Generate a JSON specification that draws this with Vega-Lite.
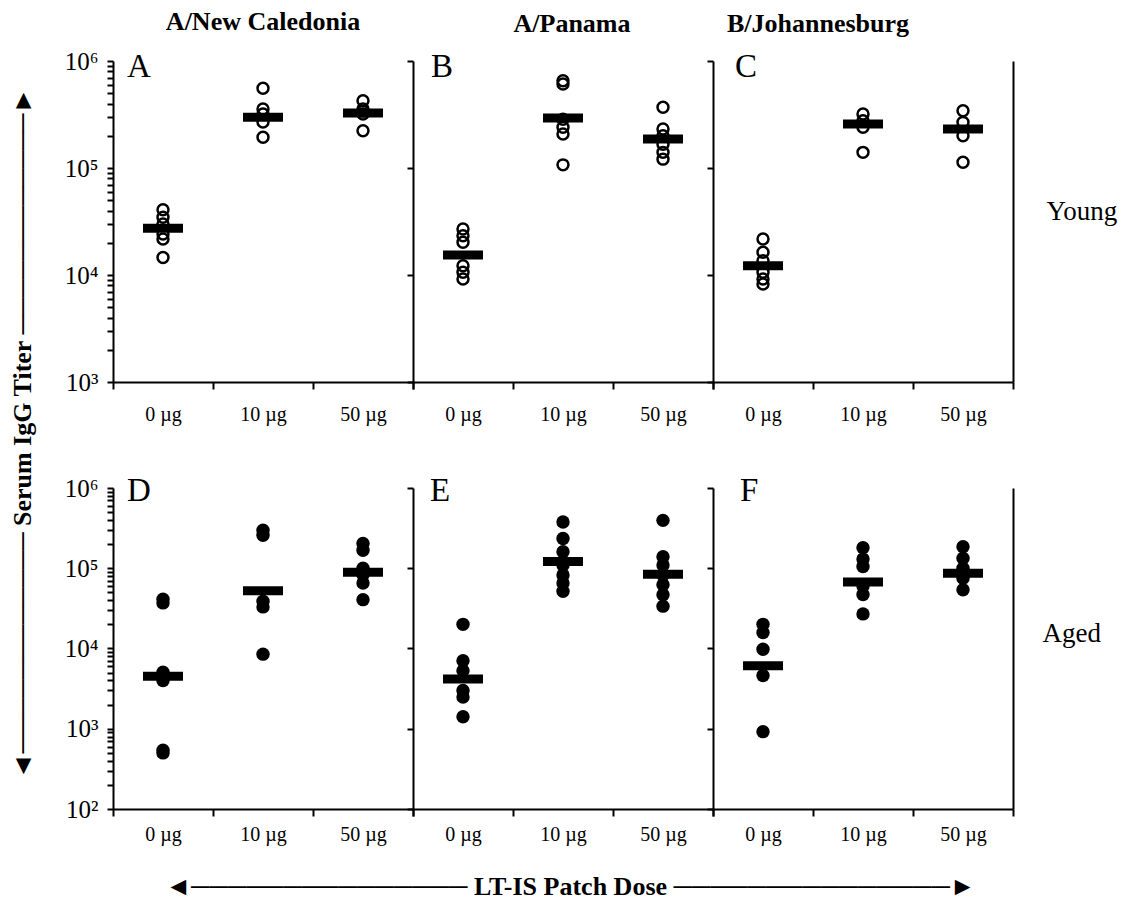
{
  "$schema": "https://vega.github.io/schema/vega-lite/v6.json",
  "background": "white",
  "padding": {"left": 9, "top": 9, "right": 5, "bottom": 5},
  "config": {
    "view": {"stroke": null},
    "font": "Liberation Serif",
    "axis": {"domainColor": "black", "domainWidth": 2, "tickColor": "black", "tickWidth": 2, "labelColor": "black", "titleColor": "black", "grid": false, "labelFont": "Liberation Serif", "titleFont": "Liberation Serif"},
    "title": {"font": "Liberation Serif", "fontSize": 26, "fontWeight": "bold", "color": "black", "frame": "group", "offset": 14}
  },
  "datasets": {
    "young": [
      {"panel": "A", "dose": "0 µg", "titer": 40700}, {"panel": "A", "dose": "0 µg", "titer": 34600}, {"panel": "A", "dose": "0 µg", "titer": 30000}, {"panel": "A", "dose": "0 µg", "titer": 24200}, {"panel": "A", "dose": "0 µg", "titer": 21700}, {"panel": "A", "dose": "0 µg", "titer": 14600},
      {"panel": "A", "dose": "10 µg", "titer": 556000}, {"panel": "A", "dose": "10 µg", "titer": 356000}, {"panel": "A", "dose": "10 µg", "titer": 320000}, {"panel": "A", "dose": "10 µg", "titer": 269000}, {"panel": "A", "dose": "10 µg", "titer": 194000},
      {"panel": "A", "dose": "50 µg", "titer": 425000}, {"panel": "A", "dose": "50 µg", "titer": 356000}, {"panel": "A", "dose": "50 µg", "titer": 340000}, {"panel": "A", "dose": "50 µg", "titer": 320000}, {"panel": "A", "dose": "50 µg", "titer": 223000},
      {"panel": "B", "dose": "0 µg", "titer": 26900}, {"panel": "B", "dose": "0 µg", "titer": 23300}, {"panel": "B", "dose": "0 µg", "titer": 20200}, {"panel": "B", "dose": "0 µg", "titer": 12200}, {"panel": "B", "dose": "0 µg", "titer": 10600}, {"panel": "B", "dose": "0 µg", "titer": 9180},
      {"panel": "B", "dose": "10 µg", "titer": 655000}, {"panel": "B", "dose": "10 µg", "titer": 610000}, {"panel": "B", "dose": "10 µg", "titer": 285000}, {"panel": "B", "dose": "10 µg", "titer": 240000}, {"panel": "B", "dose": "10 µg", "titer": 208000}, {"panel": "B", "dose": "10 µg", "titer": 107000},
      {"panel": "B", "dose": "50 µg", "titer": 369000}, {"panel": "B", "dose": "50 µg", "titer": 231000}, {"panel": "B", "dose": "50 µg", "titer": 200000}, {"panel": "B", "dose": "50 µg", "titer": 167000}, {"panel": "B", "dose": "50 µg", "titer": 140000}, {"panel": "B", "dose": "50 µg", "titer": 121000},
      {"panel": "C", "dose": "0 µg", "titer": 21700}, {"panel": "C", "dose": "0 µg", "titer": 16300}, {"panel": "C", "dose": "0 µg", "titer": 13600}, {"panel": "C", "dose": "0 µg", "titer": 10600}, {"panel": "C", "dose": "0 µg", "titer": 9180}, {"panel": "C", "dose": "0 µg", "titer": 8240},
      {"panel": "C", "dose": "10 µg", "titer": 320000}, {"panel": "C", "dose": "10 µg", "titer": 277000}, {"panel": "C", "dose": "10 µg", "titer": 240000}, {"panel": "C", "dose": "10 µg", "titer": 140000},
      {"panel": "C", "dose": "50 µg", "titer": 343000}, {"panel": "C", "dose": "50 µg", "titer": 267000}, {"panel": "C", "dose": "50 µg", "titer": 200000}, {"panel": "C", "dose": "50 µg", "titer": 113000}
    ],
    "aged": [
      {"panel": "D", "dose": "0 µg", "titer": 41000}, {"panel": "D", "dose": "0 µg", "titer": 37000}, {"panel": "D", "dose": "0 µg", "titer": 5060}, {"panel": "D", "dose": "0 µg", "titer": 3990}, {"panel": "D", "dose": "0 µg", "titer": 540}, {"panel": "D", "dose": "0 µg", "titer": 500},
      {"panel": "D", "dose": "10 µg", "titer": 297000}, {"panel": "D", "dose": "10 µg", "titer": 258000}, {"panel": "D", "dose": "10 µg", "titer": 38800}, {"panel": "D", "dose": "10 µg", "titer": 33000}, {"panel": "D", "dose": "10 µg", "titer": 8500},
      {"panel": "D", "dose": "50 µg", "titer": 204000}, {"panel": "D", "dose": "50 µg", "titer": 168000}, {"panel": "D", "dose": "50 µg", "titer": 100000}, {"panel": "D", "dose": "50 µg", "titer": 82700}, {"panel": "D", "dose": "50 µg", "titer": 65300}, {"panel": "D", "dose": "50 µg", "titer": 40600},
      {"panel": "E", "dose": "0 µg", "titer": 20000}, {"panel": "E", "dose": "0 µg", "titer": 7050}, {"panel": "E", "dose": "0 µg", "titer": 5300}, {"panel": "E", "dose": "0 µg", "titer": 3000}, {"panel": "E", "dose": "0 µg", "titer": 2480}, {"panel": "E", "dose": "0 µg", "titer": 1410},
      {"panel": "E", "dose": "10 µg", "titer": 377000}, {"panel": "E", "dose": "10 µg", "titer": 235000}, {"panel": "E", "dose": "10 µg", "titer": 161000}, {"panel": "E", "dose": "10 µg", "titer": 110000}, {"panel": "E", "dose": "10 µg", "titer": 82600}, {"panel": "E", "dose": "10 µg", "titer": 65300}, {"panel": "E", "dose": "10 µg", "titer": 51600},
      {"panel": "E", "dose": "50 µg", "titer": 395000}, {"panel": "E", "dose": "50 µg", "titer": 139000}, {"panel": "E", "dose": "50 µg", "titer": 110000}, {"panel": "E", "dose": "50 µg", "titer": 82600}, {"panel": "E", "dose": "50 µg", "titer": 62200}, {"panel": "E", "dose": "50 µg", "titer": 46800}, {"panel": "E", "dose": "50 µg", "titer": 33700},
      {"panel": "F", "dose": "0 µg", "titer": 20000}, {"panel": "F", "dose": "0 µg", "titer": 15800}, {"panel": "F", "dose": "0 µg", "titer": 9800}, {"panel": "F", "dose": "0 µg", "titer": 4600}, {"panel": "F", "dose": "0 µg", "titer": 920},
      {"panel": "F", "dose": "10 µg", "titer": 180000}, {"panel": "F", "dose": "10 µg", "titer": 130000}, {"panel": "F", "dose": "10 µg", "titer": 105000}, {"panel": "F", "dose": "10 µg", "titer": 60000}, {"panel": "F", "dose": "10 µg", "titer": 47000}, {"panel": "F", "dose": "10 µg", "titer": 27000},
      {"panel": "F", "dose": "50 µg", "titer": 185000}, {"panel": "F", "dose": "50 µg", "titer": 133000}, {"panel": "F", "dose": "50 µg", "titer": 100000}, {"panel": "F", "dose": "50 µg", "titer": 75000}, {"panel": "F", "dose": "50 µg", "titer": 54000}
    ],
    "means": [
      {"panel": "A", "dose": "0 µg", "mean": 27300}, {"panel": "A", "dose": "10 µg", "mean": 298000}, {"panel": "A", "dose": "50 µg", "mean": 327000},
      {"panel": "B", "dose": "0 µg", "mean": 15400}, {"panel": "B", "dose": "10 µg", "mean": 293000}, {"panel": "B", "dose": "50 µg", "mean": 187000},
      {"panel": "C", "dose": "0 µg", "mean": 12200}, {"panel": "C", "dose": "10 µg", "mean": 258000}, {"panel": "C", "dose": "50 µg", "mean": 231000},
      {"panel": "D", "dose": "0 µg", "mean": 4510}, {"panel": "D", "dose": "10 µg", "mean": 52500}, {"panel": "D", "dose": "50 µg", "mean": 89300},
      {"panel": "E", "dose": "0 µg", "mean": 4180}, {"panel": "E", "dose": "10 µg", "mean": 121000}, {"panel": "E", "dose": "50 µg", "mean": 84300},
      {"panel": "F", "dose": "0 µg", "mean": 6110}, {"panel": "F", "dose": "10 µg", "mean": 67200}, {"panel": "F", "dose": "50 µg", "mean": 86700}
    ],
    "letters": [{"panel": "A"}, {"panel": "B"}, {"panel": "C"}, {"panel": "D"}, {"panel": "E"}, {"panel": "F"}]
  },
  "bounds": "flush",
  "columns": 3,
  "spacing": {"row": 106, "column": 0},
  "concat": [
        {
          "width": 300, "height": 321,
          "title": {"text": "A/New Caledonia"},
          "layer": [
            {"data": {"name": "young"}, "transform": [{"filter": "datum.panel == 'A'"}],
             "mark": {"type": "point", "filled": false, "color": "black", "size": 120, "strokeWidth": 2.5, "opacity": 1},
             "encoding": {
               "x": {"field": "dose", "type": "nominal", "scale": {"type": "band", "domain": ["0 µg", "10 µg", "50 µg"], "paddingInner": 0, "paddingOuter": 0}, "axis": {"title": null, "tickBand": "extent", "labelFontSize": 20, "labelPadding": 15, "tickSize": 7, "labelAngle": 0}},
               "y": {"field": "titer", "type": "quantitative", "scale": {"type": "log", "domain": [1000, 1000000]},
                     "axis": {"title": "◄────────────  Serum IgG Titer  ────────────►", "titleX": -91, "titleY": 372, "titleBaseline": "middle", "titleFontSize": 26, "titleFontWeight": "bold", "labelFontSize": 25, "labelPadding": 9, "tickSize": 6, "labelOverlap": false, "labelBound": false,
                              "values": [1000,2000,3000,4000,5000,6000,7000,8000,9000,10000,20000,30000,40000,50000,60000,70000,80000,90000,100000,200000,300000,400000,500000,600000,700000,800000,900000,1000000],
                              "labelExpr": "abs(log(datum.value)/LN10 - round(log(datum.value)/LN10)) < 0.01 ? '10' + ['⁰','¹','²','³','⁴','⁵','⁶'][round(log(datum.value)/LN10)] : ''"}}
             }},
            {"data": {"name": "means"}, "transform": [{"filter": "datum.panel == 'A'"}],
             "mark": {"type": "tick", "color": "black", "size": 40, "thickness": 9, "opacity": 1},
             "encoding": {"x": {"field": "dose", "type": "nominal"}, "y": {"field": "mean", "type": "quantitative"}}},
            {"data": {"name": "letters"}, "transform": [{"filter": "datum.panel == 'A'"}],
             "mark": {"type": "text", "fontSize": 33, "align": "left", "baseline": "alphabetic", "dx": -36, "dy": 16, "color": "black"},
             "encoding": {"x": {"datum": "0 µg", "type": "nominal"}, "y": {"datum": 1000000, "type": "quantitative"}, "text": {"field": "panel"}}}
          ]
        },
        {
          "width": 300, "height": 321,
          "title": {"text": "A/Panama", "dx": 9},
          "layer": [
            {"data": {"name": "young"}, "transform": [{"filter": "datum.panel == 'B'"}],
             "mark": {"type": "point", "filled": false, "color": "black", "size": 120, "strokeWidth": 2.5, "opacity": 1},
             "encoding": {
               "x": {"field": "dose", "type": "nominal", "scale": {"type": "band", "domain": ["0 µg", "10 µg", "50 µg"], "paddingInner": 0, "paddingOuter": 0}, "axis": {"title": null, "tickBand": "extent", "labelFontSize": 20, "labelPadding": 15, "tickSize": 7, "labelAngle": 0}},
               "y": {"field": "titer", "type": "quantitative", "scale": {"type": "log", "domain": [1000, 1000000]},
                     "axis": {"title": null, "labels": false, "tickSize": 6, "values": [1000, 10000, 100000, 1000000]}}
             }},
            {"data": {"name": "means"}, "transform": [{"filter": "datum.panel == 'B'"}],
             "mark": {"type": "tick", "color": "black", "size": 40, "thickness": 9, "opacity": 1},
             "encoding": {"x": {"field": "dose", "type": "nominal"}, "y": {"field": "mean", "type": "quantitative"}}},
            {"data": {"name": "letters"}, "transform": [{"filter": "datum.panel == 'B'"}],
             "mark": {"type": "text", "fontSize": 33, "align": "left", "baseline": "alphabetic", "dx": -32, "dy": 16, "color": "black"},
             "encoding": {"x": {"datum": "0 µg", "type": "nominal"}, "y": {"datum": 1000000, "type": "quantitative"}, "text": {"field": "panel"}}}
          ]
        },
        {
          "width": 300, "height": 321,
          "title": {"text": "B/Johannesburg", "dx": -45},
          "resolve": {"axis": {"y": "independent"}},
          "layer": [
            {"data": {"name": "young"}, "transform": [{"filter": "datum.panel == 'C'"}],
             "mark": {"type": "point", "filled": false, "color": "black", "size": 120, "strokeWidth": 2.5, "opacity": 1},
             "encoding": {
               "x": {"field": "dose", "type": "nominal", "scale": {"type": "band", "domain": ["0 µg", "10 µg", "50 µg"], "paddingInner": 0, "paddingOuter": 0}, "axis": {"title": null, "tickBand": "extent", "labelFontSize": 20, "labelPadding": 15, "tickSize": 7, "labelAngle": 0}},
               "y": {"field": "titer", "type": "quantitative", "scale": {"type": "log", "domain": [1000, 1000000]},
                     "axis": {"title": null, "labels": false, "tickSize": 6, "values": [1000, 10000, 100000, 1000000]}}
             }},
            {"data": {"name": "means"}, "transform": [{"filter": "datum.panel == 'C'"}],
             "mark": {"type": "tick", "color": "black", "size": 40, "thickness": 9, "opacity": 1},
             "encoding": {"x": {"field": "dose", "type": "nominal"},
                          "y": {"field": "mean", "type": "quantitative", "axis": {"orient": "right", "ticks": false, "labels": false, "domain": true, "title": "Young", "titleAngle": 0, "titleAlign": "left", "titleBaseline": "middle", "titleX": 33, "titleY": 150, "titleFontSize": 27, "titleFontWeight": "normal"}}}},
            {"data": {"name": "letters"}, "transform": [{"filter": "datum.panel == 'C'"}],
             "mark": {"type": "text", "fontSize": 33, "align": "left", "baseline": "alphabetic", "dx": -28, "dy": 16, "color": "black"},
             "encoding": {"x": {"datum": "0 µg", "type": "nominal"}, "y": {"datum": 1000000, "type": "quantitative", "axis": null}, "text": {"field": "panel"}}}
          ]
        },
        {
          "width": 300, "height": 321,
          "layer": [
            {"data": {"name": "aged"}, "transform": [{"filter": "datum.panel == 'D'"}],
             "mark": {"type": "circle", "color": "black", "size": 180, "opacity": 1},
             "encoding": {
               "x": {"field": "dose", "type": "nominal", "scale": {"type": "band", "domain": ["0 µg", "10 µg", "50 µg"], "paddingInner": 0, "paddingOuter": 0}, "axis": {"title": null, "tickBand": "extent", "labelFontSize": 20, "labelPadding": 8, "tickSize": 7, "labelAngle": 0}},
               "y": {"field": "titer", "type": "quantitative", "scale": {"type": "log", "domain": [100, 1000000]},
                     "axis": {"title": null, "labelFontSize": 25, "labelPadding": 9, "tickSize": 6, "labelOverlap": false, "labelBound": false,
                              "values": [100,200,300,400,500,600,700,800,900,1000,2000,3000,4000,5000,6000,7000,8000,9000,10000,20000,30000,40000,50000,60000,70000,80000,90000,100000,200000,300000,400000,500000,600000,700000,800000,900000,1000000],
                              "labelExpr": "abs(log(datum.value)/LN10 - round(log(datum.value)/LN10)) < 0.01 ? '10' + ['⁰','¹','²','³','⁴','⁵','⁶'][round(log(datum.value)/LN10)] : ''"}}
             }},
            {"data": {"name": "means"}, "transform": [{"filter": "datum.panel == 'D'"}],
             "mark": {"type": "tick", "color": "black", "size": 40, "thickness": 9, "opacity": 1},
             "encoding": {"x": {"field": "dose", "type": "nominal"}, "y": {"field": "mean", "type": "quantitative"}}},
            {"data": {"name": "letters"}, "transform": [{"filter": "datum.panel == 'D'"}],
             "mark": {"type": "text", "fontSize": 33, "align": "left", "baseline": "alphabetic", "dx": -36, "dy": 13, "color": "black"},
             "encoding": {"x": {"datum": "0 µg", "type": "nominal"}, "y": {"datum": 1000000, "type": "quantitative"}, "text": {"field": "panel"}}}
          ]
        },
        {
          "width": 300, "height": 321,
          "layer": [
            {"data": {"name": "aged"}, "transform": [{"filter": "datum.panel == 'E'"}],
             "mark": {"type": "circle", "color": "black", "size": 180, "opacity": 1},
             "encoding": {
               "x": {"field": "dose", "type": "nominal", "scale": {"type": "band", "domain": ["0 µg", "10 µg", "50 µg"], "paddingInner": 0, "paddingOuter": 0}, "axis": {"title": "◄───────────────  LT-IS Patch Dose  ───────────────►", "titleX": 157, "titleY": 77, "titleBaseline": "middle", "titleFontSize": 26, "titleFontWeight": "bold", "tickBand": "extent", "labelFontSize": 20, "labelPadding": 8, "tickSize": 7, "labelAngle": 0}},
               "y": {"field": "titer", "type": "quantitative", "scale": {"type": "log", "domain": [100, 1000000]},
                     "axis": {"title": null, "labels": false, "tickSize": 6, "values": [100, 1000, 10000, 100000, 1000000]}}
             }},
            {"data": {"name": "means"}, "transform": [{"filter": "datum.panel == 'E'"}],
             "mark": {"type": "tick", "color": "black", "size": 40, "thickness": 9, "opacity": 1},
             "encoding": {"x": {"field": "dose", "type": "nominal"}, "y": {"field": "mean", "type": "quantitative"}}},
            {"data": {"name": "letters"}, "transform": [{"filter": "datum.panel == 'E'"}],
             "mark": {"type": "text", "fontSize": 33, "align": "left", "baseline": "alphabetic", "dx": -33, "dy": 13, "color": "black"},
             "encoding": {"x": {"datum": "0 µg", "type": "nominal"}, "y": {"datum": 1000000, "type": "quantitative"}, "text": {"field": "panel"}}}
          ]
        },
        {
          "width": 300, "height": 321,
          "resolve": {"axis": {"y": "independent"}},
          "layer": [
            {"data": {"name": "aged"}, "transform": [{"filter": "datum.panel == 'F'"}],
             "mark": {"type": "circle", "color": "black", "size": 180, "opacity": 1},
             "encoding": {
               "x": {"field": "dose", "type": "nominal", "scale": {"type": "band", "domain": ["0 µg", "10 µg", "50 µg"], "paddingInner": 0, "paddingOuter": 0}, "axis": {"title": null, "tickBand": "extent", "labelFontSize": 20, "labelPadding": 8, "tickSize": 7, "labelAngle": 0}},
               "y": {"field": "titer", "type": "quantitative", "scale": {"type": "log", "domain": [100, 1000000]},
                     "axis": {"title": null, "labels": false, "tickSize": 6, "values": [100, 1000, 10000, 100000, 1000000]}}
             }},
            {"data": {"name": "means"}, "transform": [{"filter": "datum.panel == 'F'"}],
             "mark": {"type": "tick", "color": "black", "size": 40, "thickness": 9, "opacity": 1},
             "encoding": {"x": {"field": "dose", "type": "nominal"},
                          "y": {"field": "mean", "type": "quantitative", "axis": {"orient": "right", "ticks": false, "labels": false, "domain": true, "title": "Aged", "titleAngle": 0, "titleAlign": "left", "titleBaseline": "middle", "titleX": 29, "titleY": 145, "titleFontSize": 27, "titleFontWeight": "normal"}}}},
            {"data": {"name": "letters"}, "transform": [{"filter": "datum.panel == 'F'"}],
             "mark": {"type": "text", "fontSize": 33, "align": "left", "baseline": "alphabetic", "dx": -23, "dy": 13, "color": "black"},
             "encoding": {"x": {"datum": "0 µg", "type": "nominal"}, "y": {"datum": 1000000, "type": "quantitative", "axis": null}, "text": {"field": "panel"}}}
          ]
        }
  ]
}
